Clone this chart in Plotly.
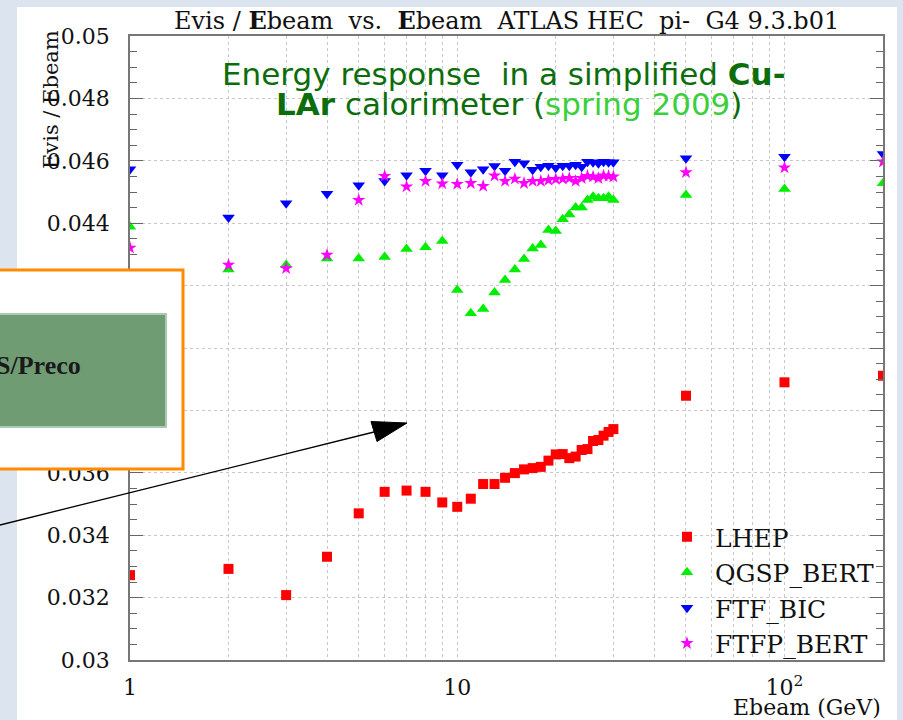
import math
import plotly.graph_objects as go

# ---------------- data ----------------
energy = list(range(1, 31)) + [50, 100, 200]

lhep = [0.03272, 0.03292, 0.03208, 0.03331, 0.03470, 0.03539, 0.03543, 0.03539, 0.03505, 0.03491,
        0.03517, 0.03564, 0.03564, 0.03584, 0.03599, 0.03611, 0.03615, 0.03619, 0.03639, 0.03659,
        0.03660, 0.03647, 0.03652, 0.03673, 0.03676, 0.03702, 0.03705, 0.03719, 0.03731, 0.03740,
        0.03847, 0.03890, 0.03911]

qgsp_bert = [0.04389, 0.04252, 0.04266, 0.04287, 0.04287, 0.04292, 0.04317, 0.04323, 0.04343, 0.04186,
             0.04111, 0.04125, 0.04178, 0.04218, 0.04252, 0.04285, 0.04319, 0.04330, 0.04378, 0.04375,
             0.04413, 0.04428, 0.04450, 0.04450, 0.04474, 0.04485, 0.04480, 0.04480, 0.04485, 0.04474,
             0.04490, 0.04510, 0.04528]

ftf_bic = [0.04573, 0.04418, 0.04464, 0.04494, 0.04522, 0.04535, 0.04554, 0.04568, 0.04554, 0.04587,
           0.04563, 0.04573, 0.04583, 0.04568, 0.04597, 0.04592, 0.04571, 0.04581, 0.04584, 0.04578,
           0.04584, 0.04584, 0.04587, 0.04581, 0.04597, 0.04595, 0.04592, 0.04597, 0.04595, 0.04595,
           0.04608, 0.04613, 0.04622]

ftfp_bert = [0.04321, 0.04266, 0.04255, 0.04298, 0.04474, 0.04551, 0.04517, 0.04535, 0.04527, 0.04525,
             0.04528, 0.04519, 0.04552, 0.04535, 0.04542, 0.04528, 0.04535, 0.04535, 0.04538, 0.04541,
             0.04542, 0.04544, 0.04535, 0.04544, 0.04551, 0.04549, 0.04544, 0.04552, 0.04551, 0.04549,
             0.04563, 0.04578, 0.04597]

series_names = ["LHEP", "QGSP_BERT", "FTF_BIC", "FTFP_BERT"]

x_tickvals = [1, 2, 3, 4, 5, 6, 7, 8, 9, 10, 20, 30, 40, 50, 60, 70, 80, 90, 100, 200]
x_ticktext = ["1", "", "", "", "", "", "", "", "", "10", "", "", "", "", "", "", "", "", "10<sup>2</sup>", ""]
y_tickvals = [0.030, 0.032, 0.034, 0.036, 0.038, 0.040, 0.042, 0.044, 0.046, 0.048, 0.050]
y_ticktext = ["0.03", "0.032", "0.034", "0.036", "0.038", "0.04", "0.042", "0.044", "0.046", "0.048", "0.05"]

# ---------------- layout geometry ----------------
W, H = 903, 720
L, R, T, B = 130, 883, 36, 660
PW, PH = R - L, B - T


def px(x):
    return (x - L) / PW


def py(y):
    return (B - y) / PH


SERIF = "DejaVu Serif"

fig = go.Figure()
styles = [
    dict(symbol="square", size=10, color="#ff0000"),
    dict(symbol="triangle-up", size=11, color="#00ee00"),
    dict(symbol="triangle-down", size=11, color="#0000ff"),
    dict(symbol="star", size=10, color="#ff00ff"),
]
for name, vals, st in zip(series_names, [lhep, qgsp_bert, ftf_bic, ftfp_bert], styles):
    fig.add_trace(go.Scatter(x=energy, y=vals, mode="markers", name=name,
                             marker=dict(symbol=st["symbol"], size=st["size"], color=st["color"],
                                         line=dict(width=0))))

shapes = [
    # white slide area
    dict(type="rect", xref="paper", yref="paper", x0=px(17), x1=px(897), y0=py(720), y1=py(7),
         fillcolor="white", line=dict(width=0), layer="below"),
    # orange box overlay
    dict(type="rect", xref="paper", yref="paper", x0=px(-5), x1=px(183), y0=py(469), y1=py(270),
         fillcolor="white", line=dict(color="#ff8c00", width=3), layer="above"),
    dict(type="rect", xref="paper", yref="paper", x0=px(-5), x1=px(166), y0=py(427), y1=py(314),
         fillcolor="#709c74", line=dict(color="#a9cbb2", width=2), layer="above"),
    # arrow line
    dict(type="line", xref="paper", yref="paper", x0=px(0), y0=py(525), x1=px(378), y1=py(431),
         line=dict(color="black", width=1.3), layer="above"),
    # arrow head
    dict(type="path", xref="paper", yref="paper", layer="above",
         path="M {:.5f} {:.5f} L {:.5f} {:.5f} L {:.5f} {:.5f} Z".format(
             px(407), py(423), px(377), py(441.5), px(371), py(421.5)),
         fillcolor="black", line=dict(color="black", width=1)),
]

NB = "\u00a0"
annotations = [
    dict(text="Evis / <b>E</b>beam" + NB * 2 + "vs." + NB * 2 + "<b>E</b>beam" + NB * 2 + "ATLAS HEC" + NB * 2
              + "pi-" + NB * 2 + "G4 9.3.b01",
         xref="paper", yref="paper", x=px(506), y=py(20), showarrow=False,
         font=dict(family=SERIF, size=24, color="#111111"), xanchor="center", yanchor="middle"),
    dict(text="Evis / Ebeam", textangle=-90, xref="paper", yref="paper", x=px(51), y=py(100),
         showarrow=False, font=dict(family=SERIF, size=21, color="#111111"),
         xanchor="center", yanchor="middle"),
    dict(text="Ebeam (GeV)", xref="paper", yref="paper", x=px(883), y=py(707), showarrow=False,
         font=dict(family=SERIF, size=22, color="#111111"), xanchor="right", yanchor="middle"),
    dict(text="Energy response" + NB * 2 + "in a simplified <b>Cu-</b>", xref="paper", yref="paper",
         x=px(504), y=py(74), showarrow=False,
         font=dict(family="DejaVu Sans", size=31, color="#0b6e0b"), xanchor="center", yanchor="middle"),
    dict(text="<b>LAr</b> calorimeter (<span style='color:#3ccf3c'>spring 2009</span>)",
         xref="paper", yref="paper", x=px(509), y=py(104), showarrow=False,
         font=dict(family="DejaVu Sans", size=31, color="#0b6e0b"), xanchor="center", yanchor="middle"),
    dict(text="<b>S/Preco</b>", xref="paper", yref="paper", x=px(83), y=py(365), showarrow=False,
         font=dict(family="Liberation Serif", size=26, color="#1a1a1a"), xanchor="right", yanchor="middle"),
]

fig.update_layout(
    width=W, height=H,
    margin=dict(l=L, r=W - R, t=T, b=H - B, pad=0),
    paper_bgcolor="#dce4f0",
    plot_bgcolor="white",
    showlegend=True,
    legend=dict(x=px(659), y=py(514), xanchor="left", yanchor="top", bgcolor="rgba(0,0,0,0)",
                borderwidth=0, itemwidth=46, font=dict(family=SERIF, size=25, color="#111111"),
                tracegroupgap=0),
    shapes=shapes,
    annotations=annotations,
    xaxis=dict(type="log", range=[0, math.log10(200)], tickvals=x_tickvals, ticktext=x_ticktext,
               showgrid=True, gridcolor="#c8c8c8", griddash="dot", gridwidth=1,
               showline=True, linecolor="#777777", linewidth=1.5, mirror=True,
               ticks="", zeroline=False, ticklabelstandoff=7,
               tickfont=dict(family=SERIF, size=22, color="#111111")),
    yaxis=dict(range=[0.030, 0.050], tickvals=y_tickvals, ticktext=y_ticktext,
               showgrid=True, gridcolor="#c8c8c8", griddash="dot", gridwidth=1,
               showline=True, linecolor="#777777", linewidth=1.5, mirror="ticks",
               ticks="inside", ticklen=13, tickcolor="#666666", tickwidth=1,
               minor=dict(dtick=0.0005, tick0=0.03, ticks="inside", ticklen=7, tickcolor="#666666",
                          showgrid=False),
               zeroline=False, ticklabelstandoff=14,
               tickfont=dict(family=SERIF, size=22, color="#111111")),
)

fig.write_html("out.html")
